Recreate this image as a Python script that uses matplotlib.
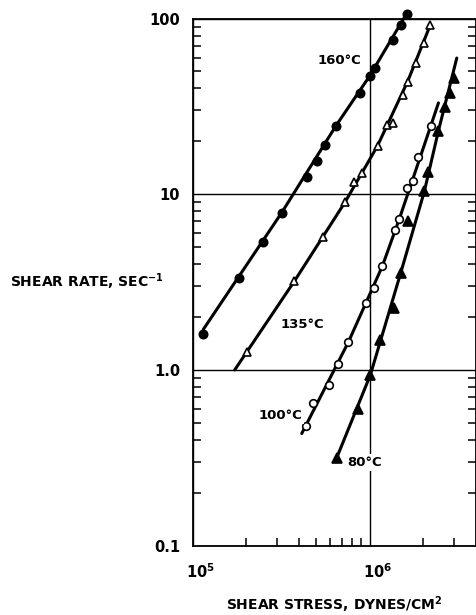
import matplotlib
matplotlib.use('Agg')
import matplotlib.pyplot as plt
from matplotlib.ticker import FixedLocator, NullFormatter
from matplotlib.transforms import ScaledTranslation

plt.rcParams['font.family'] = ['Liberation Sans Narrow', 'DejaVu Sans']
plt.rcParams['font.weight'] = 'bold'
plt.rcParams['mathtext.fontset'] = 'custom'
plt.rcParams['mathtext.rm'] = 'Liberation Sans Narrow:bold'
plt.rcParams['mathtext.it'] = 'Liberation Sans Narrow:bold'
plt.rcParams['mathtext.bf'] = 'Liberation Sans Narrow:bold'
plt.rcParams['mathtext.default'] = 'rm'

# shear stress (dynes/cm2) and shear rate (1/sec)
t160_x = [1.14e5, 1.84e5, 2.49e5, 3.19e5, 4.45e5, 5.02e5, 5.62e5, 6.47e5,
          8.84e5, 1.0e6, 1.074e6, 1.35e6, 1.50e6, 1.62e6]
t160_y = [1.60, 3.34, 5.34, 7.86, 12.5, 15.5, 19.1, 24.6,
          37.8, 47.0, 52.3, 75.2, 92.4, 106.8]
t160_line_x = [1.15e5, 3.19e5, 6.47e5, 1.0e6, 1.62e6]
t160_line_y = [1.70, 7.86, 24.6, 47.0, 106.8]

t135_x = [2.02e5, 3.76e5, 5.48e5, 7.28e5, 8.17e5, 9.04e5, 1.11e6, 1.26e6,
          1.36e6, 1.55e6, 1.64e6, 1.83e6, 2.04e6, 2.20e6]
t135_y = [1.26, 3.20, 5.70, 9.04, 11.8, 13.2, 18.9, 24.8,
          25.3, 36.5, 43.8, 56.1, 72.6, 91.6]
t135_line_x = [1.73e5, 3.76e5, 7.28e5, 1.11e6, 1.64e6, 2.20e6]
t135_line_y = [1.0, 3.20, 9.04, 18.9, 43.8, 91.6]

t100_x = [4.38e5, 4.82e5, 5.93e5, 6.61e5, 7.59e5, 9.55e5, 1.06e6, 1.18e6,
          1.39e6, 1.47e6, 1.62e6, 1.77e6, 1.89e6, 2.22e6]
t100_y = [0.479, 0.650, 0.821, 1.08, 1.44, 2.40, 2.93, 3.89,
          6.25, 7.20, 10.8, 11.9, 16.2, 24.6]
t100_line_x = [4.14e5, 7.59e5, 1.18e6, 1.47e6, 2.22e6, 2.45e6]
t100_line_y = [0.435, 1.44, 3.89, 7.20, 24.6, 33.1]

t80_x = [6.53e5, 8.64e5, 1.01e6, 1.15e6, 1.38e6, 1.50e6, 1.64e6, 2.04e6,
         2.15e6, 2.45e6, 2.67e6, 2.83e6, 3.00e6]
t80_y = [0.317, 0.599, 0.936, 1.48, 2.25, 3.57, 7.04, 10.4,
         13.4, 23.0, 31.3, 37.8, 46.0]
t80_line_x = [6.53e5, 1.01e6, 1.50e6, 2.04e6, 2.45e6, 3.11e6]
t80_line_y = [0.317, 0.936, 3.57, 10.4, 23.0, 59.6]

x_major = [1e5, 1e6]
x_major_labels = ['$10^5$', '$10^6$']
y_major = [0.1, 1.0, 10, 100]
y_major_labels = ['0.1', '1.0', '10', '100']

fig = plt.figure(figsize=(4.77, 6.15), dpi=100)
ax = fig.add_axes([0.4036, 0.1127, 0.5946, 0.8571])
ax.set_xscale('log')
ax.set_yscale('log')
ax.set_xlim(1e5, 4e6)
ax.set_ylim(0.1, 100)

# curves: (points x, points y, line x, line y, marker, face colour, size)
curves = [
    (t160_x, t160_y, t160_line_x, t160_line_y, 'o', 'black', 6.0),
    (t135_x, t135_y, t135_line_x, t135_line_y, '^', 'white', 6.0),
    (t100_x, t100_y, t100_line_x, t100_line_y, 'o', 'white', 5.5),
    (t80_x, t80_y, t80_line_x, t80_line_y, '^', 'black', 6.5),
]
for px, py, lx, ly, m, fc, ms in curves:
    ax.plot(lx, ly, color='black', lw=2.2, solid_capstyle='round', zorder=3,
            clip_on=False)
    ax.plot(px, py, ls='none', marker=m, ms=ms, mfc=fc, mec='black', mew=1.2,
            zorder=4, clip_on=False)

# temperature labels
labels = [('160°C', 6.73e5, 57.5), ('135°C', 4.16e5, 1.81),
          ('100°C', 3.12e5, 0.553), ('80°C', 9.43e5, 0.298)]
for txt, lx, ly in labels:
    ax.text(lx, ly, txt, ha='center', va='center', fontsize=9.5,
            fontweight='bold', zorder=5,
            bbox=dict(facecolor='white', edgecolor='none', pad=1.5))

ax.xaxis.set_major_locator(FixedLocator(x_major))
ax.set_xticklabels(x_major_labels)
ax.yaxis.set_major_locator(FixedLocator(y_major))
ax.set_yticklabels(y_major_labels)
ax.xaxis.set_minor_locator(FixedLocator([2e5, 3e5, 4e5, 5e5, 6e5, 7e5, 8e5, 9e5,
                                         2e6, 3e6]))
ax.yaxis.set_minor_locator(FixedLocator([k * d for d in (0.1, 1, 10)
                                         for k in range(2, 10)]))
ax.xaxis.set_minor_formatter(NullFormatter())
ax.yaxis.set_minor_formatter(NullFormatter())

ax.tick_params(which='major', length=0, labelsize=10.5)
ax.tick_params(axis='y', which='major', pad=9)
ax.tick_params(axis='x', which='major', pad=12)
ax.tick_params(which='minor', direction='in', length=6, width=1.1,
               left=True, right=True, bottom=True, top=False)

# x tick labels sit a little right of their ticks in the original
shift = ScaledTranslation(6 / 72, 0, fig.dpi_scale_trans)
for lab in ax.get_xticklabels():
    lab.set_transform(lab.get_transform() + shift)

ax.grid(True, which='major', color='black', lw=1.0)
for s in ax.spines.values():
    s.set_linewidth(1.3)

ax.set_xlabel('SHEAR STRESS, DYNES/CM$^2$', fontsize=10, fontweight='bold')
ax.xaxis.set_label_coords(0.5, -0.112)
ax.xaxis.label.set_va('center')
ax.set_ylabel('SHEAR RATE, SEC$^{-1}$', fontsize=10, fontweight='bold',
              rotation=0, ha='left', va='center')
ax.yaxis.set_label_coords(-0.6435, 0.5)

fig.savefig('out.png', dpi=100)
